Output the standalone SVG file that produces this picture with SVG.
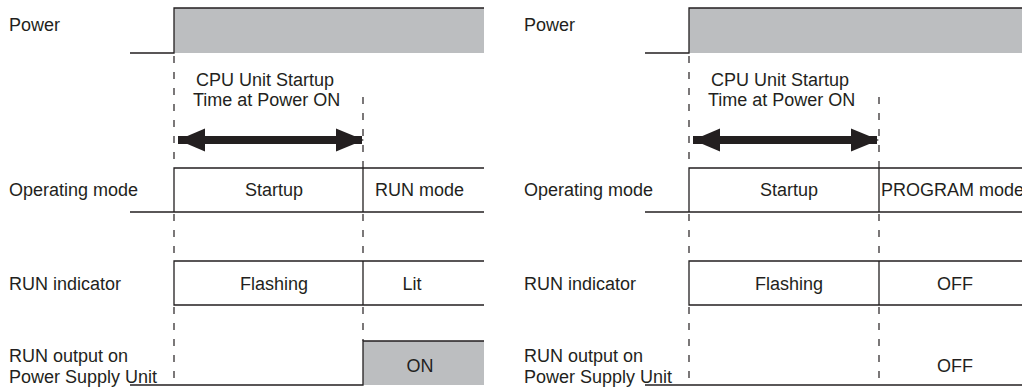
<svg xmlns="http://www.w3.org/2000/svg" width="1022" height="388" viewBox="0 0 1022 388">
<style>
  .t{font-family:"Liberation Sans",Arial,sans-serif;font-size:18px;fill:#231f20}
  .m{text-anchor:middle}
  .ln{stroke:#231f20;stroke-width:1.3;fill:none}
  .dash{stroke:#231f20;stroke-width:1.2;stroke-dasharray:7 9;fill:none}
  .gr{fill:#bcbec0;stroke:none}
</style>
<defs>
  <g id="arrow">
    <rect x="0" y="-4" width="184" height="8" fill="#231f20"/>
    <polygon points="0,0 27,-11.5 27,11.5" fill="#231f20"/>
    <polygon points="186,0 158,-11.5 158,11.5" fill="#231f20"/>
  </g>
</defs>
<rect width="1022" height="388" fill="#ffffff"/>

<g id="left">
  <g id="L-power">
    <text class="t" x="9" y="31">Power</text>
    <rect class="gr" x="174" y="8" width="310" height="45"/>
    <polyline class="ln" points="130,53 174,53 174,8 484,8"/>
  </g>
  <g id="L-startup-time">
    <text class="t" x="196" y="86">CPU Unit Startup</text>
    <text class="t" x="193" y="106">Time at Power ON</text>
    <use href="#arrow" x="178" y="140"/>
  </g>
  <g id="L-opmode">
    <text class="t" x="9" y="196">Operating mode</text>
    <polyline class="ln" points="174,212 174,168 484,168"/>
    <line class="ln" x1="130" y1="212" x2="484" y2="212"/>
    <line class="ln" x1="363" y1="168" x2="363" y2="212"/>
    <text class="t m" x="274" y="196">Startup</text>
    <text class="t" x="375" y="196">RUN mode</text>
  </g>
  <g id="L-runind">
    <text class="t" x="9" y="290">RUN indicator</text>
    <polyline class="ln" points="484,261 174,261 174,305 484,305"/>
    <line class="ln" x1="363" y1="261" x2="363" y2="305"/>
    <text class="t m" x="274" y="290">Flashing</text>
    <text class="t m" x="412" y="290">Lit</text>
  </g>
  <g id="L-runout">
    <text class="t" x="9" y="362">RUN output on</text>
    <text class="t" x="9" y="383">Power Supply Unit</text>
    <rect class="gr" x="363" y="341" width="121" height="44"/>
    <polyline class="ln" points="130,385 363,385 363,341 484,341"/>
    <text class="t m" x="420" y="372">ON</text>
  </g>
</g>

<g id="right">
  <g id="R-power">
    <text class="t" x="524" y="31">Power</text>
    <rect class="gr" x="689" y="8" width="333" height="45"/>
    <polyline class="ln" points="645,53 689,53 689,8 1022,8"/>
  </g>
  <g id="R-startup-time">
    <text class="t" x="711" y="86">CPU Unit Startup</text>
    <text class="t" x="708" y="106">Time at Power ON</text>
    <use href="#arrow" x="693" y="140"/>
  </g>
  <g id="R-opmode">
    <text class="t" x="524" y="196">Operating mode</text>
    <polyline class="ln" points="689,212 689,168 1022,168"/>
    <line class="ln" x1="645" y1="212" x2="1022" y2="212"/>
    <line class="ln" x1="879" y1="168" x2="879" y2="212"/>
    <text class="t m" x="789" y="196">Startup</text>
    <text class="t" x="881" y="196">PROGRAM mode</text>
  </g>
  <g id="R-runind">
    <text class="t" x="524" y="290">RUN indicator</text>
    <polyline class="ln" points="1022,261 689,261 689,305 1022,305"/>
    <line class="ln" x1="879" y1="261" x2="879" y2="305"/>
    <text class="t m" x="789" y="290">Flashing</text>
    <text class="t m" x="955" y="290">OFF</text>
  </g>
  <g id="R-runout">
    <text class="t" x="524" y="362">RUN output on</text>
    <text class="t" x="524" y="383">Power Supply Unit</text>
    <line class="ln" x1="645" y1="385" x2="1022" y2="385"/>
    <text class="t m" x="955" y="372">OFF</text>
  </g>
</g>

<g id="connectors">
  <line class="dash" x1="174" y1="56" x2="174" y2="168"/>
  <line class="dash" x1="174" y1="214" x2="174" y2="261"/>
  <line class="dash" x1="174" y1="307" x2="174" y2="385"/>
  <line class="dash" x1="363" y1="97" x2="363" y2="168"/>
  <line class="dash" x1="363" y1="214" x2="363" y2="261"/>
  <line class="dash" x1="363" y1="307" x2="363" y2="341"/>
  <line class="dash" x1="689" y1="56" x2="689" y2="168"/>
  <line class="dash" x1="689" y1="214" x2="689" y2="261"/>
  <line class="dash" x1="689" y1="307" x2="689" y2="385"/>
  <line class="dash" x1="879" y1="97" x2="879" y2="168"/>
  <line class="dash" x1="879" y1="214" x2="879" y2="261"/>
  <line class="dash" x1="879" y1="307" x2="879" y2="385"/>
</g>
</svg>
